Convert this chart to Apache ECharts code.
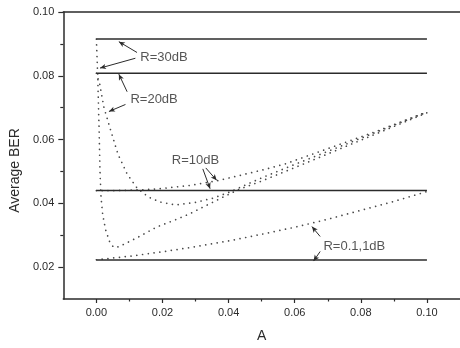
<!DOCTYPE html>
<html>
<head>
<meta charset="utf-8">
<script src="https://cdn.jsdelivr.net/npm/echarts@6/dist/echarts.min.js"></script>
<style>
html,body{margin:0;padding:0;background:#fff;}
#chart{width:460px;height:348px;}
</style>
</head>
<body>
<div id="chart"></div>
<script>
// ---- data ----
var xMajorTicks = [0.00, 0.02, 0.04, 0.06, 0.08, 0.10];
var xMinorTicks = [0.01, 0.03, 0.05, 0.07, 0.09];
var yMajorTicks = [0.02, 0.04, 0.06, 0.08, 0.10];
var yMinorTicks = [0.03, 0.05, 0.07, 0.09];

// constant (solid) lines: [A, BER]
var solid30 = [[0, 0.0915], [0.1, 0.0915]];
var solid20 = [[0, 0.0808], [0.1, 0.0808]];
var solid10 = [[0, 0.0440], [0.1, 0.0440]];
var solid01 = [[0, 0.0222], [0.1, 0.0222]];

// dotted curves
var dot30 = [[0,0.0915],[0.0004,0.0800],[0.0008,0.0640],[0.0011,0.0500],[0.0014,0.0420],[0.0019,0.0365],[0.0028,0.0317],[0.0040,0.0280],[0.0052,0.0262],[0.0068,0.0264],[0.0090,0.0275],[0.0130,0.0296],[0.0183,0.0326],[0.0243,0.0350],[0.0282,0.0367],[0.0332,0.0393],[0.0382,0.0419],[0.0432,0.0444],[0.0500,0.0470],[0.0600,0.0512],[0.0700,0.0555],[0.0800,0.0598],[0.0900,0.0641],[0.1000,0.0684]];
var dot20 = [[0,0.0808],[0.0010,0.0775],[0.0023,0.0700],[0.0043,0.0630],[0.0065,0.0555],[0.0093,0.0492],[0.0123,0.0448],[0.0157,0.0420],[0.0193,0.0404],[0.0240,0.0395],[0.0300,0.0403],[0.0352,0.0416],[0.0402,0.0435],[0.0450,0.0457],[0.0500,0.0480],[0.0600,0.0522],[0.0700,0.0563],[0.0800,0.0604],[0.0900,0.0645],[0.1000,0.0686]];
var dot10 = [[0,0.0440],[0.0050,0.0440],[0.0100,0.0441],[0.0150,0.0443],[0.0193,0.0446],[0.0282,0.0456],[0.0362,0.0470],[0.0432,0.0487],[0.0512,0.0507],[0.0572,0.0524],[0.0650,0.0553],[0.0750,0.0590],[0.0850,0.0627],[0.1000,0.0687]];
var dot01 = [[0,0.0223],[0.01,0.0234],[0.02,0.0248],[0.03,0.0264],[0.04,0.0282],[0.05,0.0303],[0.06,0.0325],[0.07,0.0350],[0.08,0.0378],[0.09,0.0406],[0.10,0.0437]];

// annotation texts (left anchor, in data units)
var labelTexts = ['R=30dB', 'R=20dB', 'R=10dB', 'R=0.1,1dB'];
var labelPos = [[0.0133, 0.0856], [0.0103, 0.0727], [0.0228, 0.0535], [0.0687, 0.0264]];
// annotation arrows: [fromA, fromBER, toA, toBER]
var arrows = [
  [0.0123, 0.0873, 0.0068, 0.0907],
  [0.0118, 0.0855, 0.0011, 0.0824],
  [0.0093, 0.0750, 0.0068, 0.0805],
  [0.0088, 0.0710, 0.0038, 0.0688],
  [0.0322, 0.0508, 0.0344, 0.0446],
  [0.0331, 0.0511, 0.0364, 0.0472],
  [0.0677, 0.0296, 0.0652, 0.0327],
  [0.0677, 0.0249, 0.0657, 0.0219]
];

var ink = '#2b2b2b';
var font = 'Liberation Sans, Arial, Helvetica, sans-serif';
var xRange = { min: -0.01, max: 0.11 };
var yRange = { min: 0.01, max: 0.10 };

function solidSeries(d) {
  return { type: 'line', data: d, symbol: 'none', silent: true,
    lineStyle: { color: ink, width: 1.5 }, z: 3 };
}
function dotSeries(d) {
  return { type: 'line', data: d, symbol: 'none', silent: true,
    lineStyle: { color: '#4a4a4a', width: 1.7, type: [0.01, 5.8], cap: 'round' }, z: 2 };
}
function tickAxis(pos, vals, len, range) {
  return { type: 'value', position: pos, min: range.min, max: range.max,
    axisLine: { show: false, onZero: false },
    axisTick: { show: true, customValues: vals, length: len, lineStyle: { color: ink, width: 1.2 } },
    axisLabel: { show: false }, splitLine: { show: false } };
}

var labelData = labelTexts.map(function (t, i) { return [labelPos[i][0], labelPos[i][1], t]; });
var arrowData = arrows.map(function (a) { return [{ coord: [a[0], a[1]] }, { coord: [a[2], a[3]] }]; });

var chart = echarts.init(document.getElementById('chart'), null, { renderer: 'canvas' });
chart.setOption({
  animation: false,
  backgroundColor: '#fff',
  grid: { left: 62, right: -3, top: 12, bottom: 44, containLabel: false },
  xAxis: [
    { type: 'value', position: 'bottom', min: xRange.min, max: xRange.max,
      name: 'A', nameLocation: 'middle', nameGap: 30,
      nameTextStyle: { fontFamily: font, fontSize: 14, color: ink },
      axisLine: { show: true, onZero: false, lineStyle: { color: ink, width: 1.5 } },
      axisTick: { show: false },
      axisLabel: { customValues: xMajorTicks, formatter: function (v) { return v.toFixed(2); },
        fontFamily: font, fontSize: 11, color: ink, margin: 8 },
      splitLine: { show: false } },
    tickAxis('bottom', xMajorTicks, 4, xRange),
    tickAxis('bottom', xMinorTicks, 2.5, xRange),
    { type: 'value', position: 'top', min: xRange.min, max: xRange.max,
      axisLine: { show: true, onZero: false, lineStyle: { color: ink, width: 1.5 } },
      axisTick: { show: false }, axisLabel: { show: false }, splitLine: { show: false } }
  ],
  yAxis: [
    { type: 'value', position: 'left', min: yRange.min, max: yRange.max,
      name: 'Average BER', nameLocation: 'middle', nameGap: 41, nameRotate: 90,
      nameTextStyle: { fontFamily: font, fontSize: 14, color: ink, padding: [0, 30, 0, 0] },
      axisLine: { show: true, onZero: false, lineStyle: { color: ink, width: 1.5 } },
      axisTick: { show: false },
      axisLabel: { customValues: yMajorTicks, formatter: function (v) { return v.toFixed(2); },
        fontFamily: font, fontSize: 11, color: ink, margin: 9 },
      splitLine: { show: false } },
    tickAxis('left', yMajorTicks, 5, yRange),
    tickAxis('left', yMinorTicks, 3, yRange)
  ],
  series: [
    solidSeries(solid30), solidSeries(solid20), solidSeries(solid10), solidSeries(solid01),
    dotSeries(dot30), dotSeries(dot20), dotSeries(dot10), dotSeries(dot01),
    { type: 'scatter', data: labelData, symbolSize: 0, silent: true, z: 5,
      label: { show: true, position: 'right', distance: 0,
        formatter: function (p) { return p.data[2]; },
        fontFamily: font, fontSize: 13, color: ink },
      markLine: { silent: true, symbol: ['none', 'arrow'], symbolSize: [4, 6],
        label: { show: false },
        lineStyle: { color: ink, width: 1, type: 'solid' },
        emphasis: { disabled: true },
        data: arrowData } }
  ]
});
</script>
</body>
</html>
